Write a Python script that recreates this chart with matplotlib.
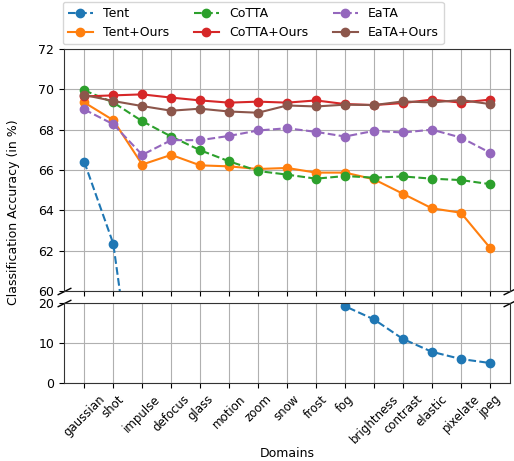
import matplotlib
matplotlib.use("Agg")
import matplotlib.pyplot as plt
import numpy as np

plt.rcParams["font.size"] = 9

domains = ["gaussian", "shot", "impulse", "defocus", "glass", "motion", "zoom",
           "snow", "frost", "fog", "brightness", "contrast", "elastic", "pixelate", "jpeg"]

tent = [66.4, 62.35, 52.0, 45.0, 40.0, 36.0, 32.0, 29.0, 26.0, 19.2, 15.9, 11.0, 7.8, 6.0, 5.0]
tent_ours = [69.35, 68.47, 66.27, 66.75, 66.23, 66.18, 66.05, 66.1, 65.87, 65.87, 65.54, 64.82, 64.1, 63.88, 62.15]
cotta = [69.95, 69.35, 68.42, 67.66, 66.98, 66.43, 65.95, 65.77, 65.57, 65.7, 65.62, 65.68, 65.57, 65.5, 65.3]
cotta_ours = [69.65, 69.7, 69.75, 69.59, 69.45, 69.34, 69.39, 69.34, 69.45, 69.27, 69.22, 69.32, 69.49, 69.34, 69.49]
eata = [69.0, 68.27, 66.75, 67.48, 67.48, 67.69, 67.96, 68.07, 67.89, 67.66, 67.94, 67.86, 68.0, 67.61, 66.86]
eata_ours = [69.72, 69.42, 69.17, 68.94, 69.04, 68.9, 68.84, 69.2, 69.15, 69.24, 69.22, 69.4, 69.35, 69.47, 69.27]

series = [
    ("Tent", tent, "#1f77b4", "--"),
    ("Tent+Ours", tent_ours, "#ff7f0e", "-"),
    ("CoTTA", cotta, "#2ca02c", "--"),
    ("CoTTA+Ours", cotta_ours, "#d62728", "-"),
    ("EaTA", eata, "#9467bd", "--"),
    ("EaTA+Ours", eata_ours, "#8c564b", "-"),
]

fig = plt.figure(figsize=(5.14, 4.61), dpi=100)
ax1 = fig.add_axes([0.1245, 0.3688, 0.868, 0.5249])
ax2 = fig.add_axes([0.1245, 0.1692, 0.868, 0.1735], sharex=ax1)

x = np.arange(len(domains))
handles = []
for name, vals, col, ls in series:
    for ax in (ax1, ax2):
        h, = ax.plot(x, vals, ls, color=col, marker="o", markersize=6,
                     linewidth=1.5, label=name)
    handles.append(h)

ax1.set_ylim(60, 72)
ax1.set_yticks([60, 62, 64, 66, 68, 70, 72])
ax2.set_ylim(0, 20)
ax2.set_yticks([0, 10, 20])
for ax in (ax1, ax2):
    ax.grid(True, color="#b0b0b0", linewidth=0.8)
    ax.set_axisbelow(True)
    for s in ax.spines.values():
        s.set_color("#333333")

ax1.tick_params(labelbottom=False)
ax2.set_xticks(x)
ax2.set_xticklabels(domains, rotation=45, ha="center", fontsize=8.5)
ax2.set_xlabel("Domains")
ax2.xaxis.set_label_coords(0.5, -0.8)

# break marks
d = 0.5
kw = dict(marker=[(-1, -d), (1, d)], markersize=10, linestyle="none",
          color="k", mec="k", mew=1, clip_on=False)
ax1.plot([0, 1], [0, 0], transform=ax1.transAxes, **kw)
ax2.plot([0, 1], [1, 1], transform=ax2.transAxes, **kw)

fig.text(0.026, 0.539, "Classification Accuracy (in %)", rotation=90,
         ha="center", va="center")

ax1.legend(handles=handles, ncol=3, loc="lower left",
           bbox_to_anchor=(-0.003, 1.02), frameon=True, borderaxespad=0.0,
           columnspacing=2.0)

fig.savefig("out.png", dpi=100)
